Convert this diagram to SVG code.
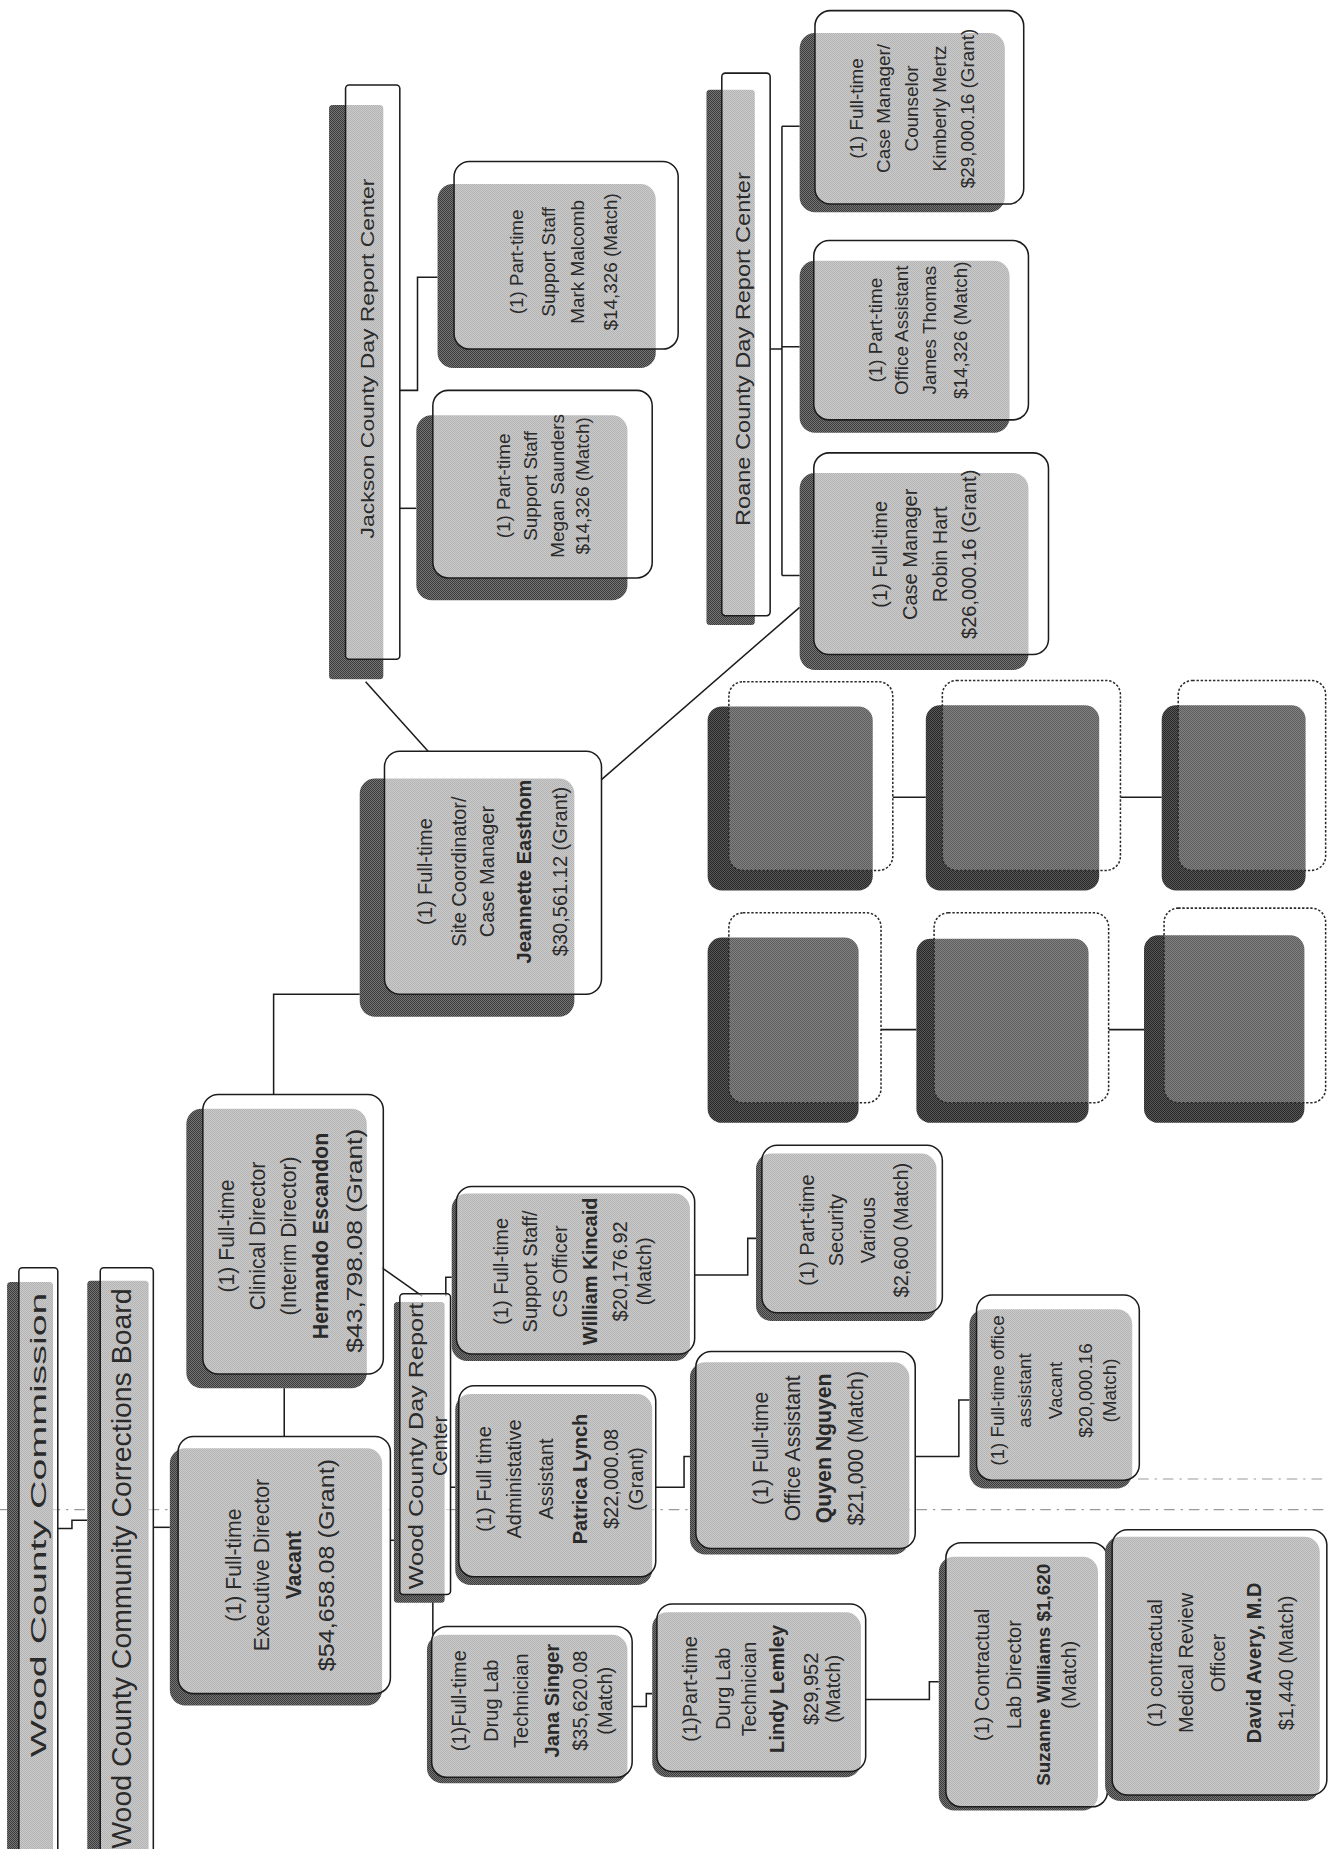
<svg xmlns="http://www.w3.org/2000/svg" width="1328" height="1849" viewBox="0 0 1328 1849">
<defs>
<pattern id="hp" width="2" height="2" patternUnits="userSpaceOnUse" patternTransform="scale(0.84789)">
<rect width="2" height="2" fill="#8a8a8a"/><rect width="1" height="1" fill="#262626"/><rect x="1" y="1" width="1" height="1" fill="#262626"/>
</pattern>
<pattern id="hp2" width="2" height="2" patternUnits="userSpaceOnUse" patternTransform="scale(0.84789)">
<rect width="2" height="2" fill="#6a6a6a"/><rect width="1" height="1" fill="#141414"/><rect x="1" y="1" width="1" height="1" fill="#141414"/>
</pattern>
</defs>
<style>
.sh{fill:url(#hp)}
.fr{fill:#fff;fill-opacity:.62;stroke:#1c1c1c;stroke-width:1.3}
.bsh{fill:url(#hp2)}
.bfr{fill:#fff;fill-opacity:.25;stroke:#2a2a2a;stroke-width:1.3;stroke-dasharray:2 1.5}
.t{font-family:"Liberation Sans",Arial,Helvetica,sans-serif;font-size:17px;fill:#2a2a2a;text-anchor:middle;dominant-baseline:central}
.s16{font-size:16px}
.s18{font-size:18px}
.b{font-weight:bold}
.c{fill:none;stroke:#1c1c1c;stroke-width:1.3}
.d{fill:none;stroke:#9a9a9a;stroke-width:1;stroke-dasharray:9 5 2 5}
</style>
<rect width="1328" height="1849" fill="#fff"/>
<g transform="scale(1.17940)">
<g id="foldlines">
<line class="d" x1="0" y1="1280" x2="1126" y2="1280"/>
<line class="d" x1="965" y1="1254" x2="1126" y2="1254"/>
</g>
<g id="connectors">
<path class="c" d="M49,1296 H61 V1289 H74"/>
<path class="c" d="M130,1295 H144"/>
<path class="c" d="M241,1177 V1218"/>
<path class="c" d="M232,928 V843 H305"/>
<path class="c" d="M310,578 L363,637"/>
<path class="c" d="M510,661 L678,515"/>
<path class="c" d="M339,331 H354 V235 H371"/>
<path class="c" d="M339,431 H353"/>
<path class="c" d="M653,296 H663 M663,107 V488 M663,107 H678 M663,294 H678 M663,488 H678"/>
<path class="c" d="M324,1075 L358,1099"/>
<path class="c" d="M331,1306 H339"/>
<path class="c" d="M378,1099 V1083 H383"/>
<path class="c" d="M382,1261 H386"/>
<path class="c" d="M367,1352 V1386"/>
<path class="c" d="M589,1081 H634 V1050 H641"/>
<path class="c" d="M556,1261 H580 V1235 H585"/>
<path class="c" d="M776,1235 H813 V1187 H822"/>
<path class="c" d="M536,1447 H548 V1436 H553"/>
<path class="c" d="M734,1441 H788 V1426 H796"/>
<path class="c" d="M757,676 H785 M950,676 H985 M747,873 H777 M940,873 H970"/>
</g>

<g id="commission">
<rect class="sh" x="6" y="1087" width="39" height="500" rx="3"/>
<rect class="fr" x="16" y="1075" width="33" height="500" rx="3"/>
<text class="t s18" textLength="394" lengthAdjust="spacingAndGlyphs" transform="translate(33 1293) rotate(-90)">Wood County Commission</text>
</g>
<g id="board">
<rect class="sh" x="74" y="1086" width="52" height="500" rx="3"/>
<rect class="fr" x="85" y="1075" width="45" height="500" rx="3"/>
<text class="t" style="font-size:24px" textLength="475" lengthAdjust="spacingAndGlyphs" transform="translate(103 1330) rotate(-90)">Wood County Community Corrections Board</text>
</g>

<g id="exec">
<rect class="sh" x="144" y="1228" width="180" height="218" rx="13"/>
<rect class="fr" x="151" y="1218" width="180" height="218" rx="13"/>
<text class="t s18" transform="translate(198 1327) rotate(-90)">(1) Full-time</text>
<text class="t s18" transform="translate(222 1327) rotate(-90)">Executive Director</text>
<text class="t s18 b" transform="translate(249 1327) rotate(-90)">Vacant</text>
<text class="t s18" textLength="180" lengthAdjust="spacingAndGlyphs" transform="translate(277 1327) rotate(-90)">$54,658.08 (Grant)</text>
</g>

<g id="clinical">
<rect class="sh" x="158" y="940" width="153" height="237" rx="13"/>
<rect class="fr" x="172" y="928" width="153" height="237" rx="13"/>
<text class="t s18" transform="translate(192 1048) rotate(-90)">(1) Full-time</text>
<text class="t s18" transform="translate(218 1048) rotate(-90)">Clinical Director</text>
<text class="t s18" transform="translate(245 1048) rotate(-90)">(Interim Director)</text>
<text class="t s18 b" transform="translate(272 1048) rotate(-90)">Hernando Escandon</text>
<text class="t s18" textLength="190" lengthAdjust="spacingAndGlyphs" transform="translate(301 1052) rotate(-90)">$43,798.08 (Grant)</text>
</g>

<g id="wcdrc">
<rect class="sh" x="334" y="1104" width="43" height="255" rx="3"/>
<rect class="fr" x="339" y="1097" width="43" height="255" rx="3"/>
<text class="t" textLength="243" lengthAdjust="spacingAndGlyphs" transform="translate(353 1226) rotate(-90)">Wood County Day Report</text>
<text class="t" transform="translate(373 1226) rotate(-90)">Center</text>
</g>

<g id="support">
<rect class="sh" x="383" y="1012" width="202" height="142" rx="13"/>
<rect class="fr" x="387" y="1006" width="202" height="142" rx="13"/>
<text class="t" transform="translate(425 1078) rotate(-90)">(1) Full-time</text>
<text class="t" transform="translate(449 1078) rotate(-90)">Support Staff/</text>
<text class="t" transform="translate(475 1078) rotate(-90)">CS Officer</text>
<text class="t b" transform="translate(500 1078) rotate(-90)">William Kincaid</text>
<text class="t" transform="translate(526 1078) rotate(-90)">$20,176.92</text>
<text class="t" transform="translate(546 1078) rotate(-90)">(Match)</text>
</g>

<g id="security">
<rect class="sh" x="641" y="978" width="153" height="142" rx="13"/>
<rect class="fr" x="646" y="971" width="153" height="142" rx="13"/>
<text class="t" transform="translate(684 1043) rotate(-90)">(1) Part-time</text>
<text class="t" transform="translate(709 1043) rotate(-90)">Security</text>
<text class="t" transform="translate(736 1043) rotate(-90)">Various</text>
<text class="t" transform="translate(764 1043) rotate(-90)">$2,600 (Match)</text>
</g>

<g id="admin">
<rect class="sh" x="386" y="1182" width="167" height="162" rx="13"/>
<rect class="fr" x="389" y="1175" width="167" height="162" rx="13"/>
<text class="t" transform="translate(410 1254) rotate(-90)">(1) Full time</text>
<text class="t" transform="translate(436 1254) rotate(-90)">Administative</text>
<text class="t" transform="translate(463 1254) rotate(-90)">Assistant</text>
<text class="t b" transform="translate(492 1254) rotate(-90)">Patrica Lynch</text>
<text class="t" transform="translate(518 1254) rotate(-90)">$22,000.08</text>
<text class="t" transform="translate(539 1254) rotate(-90)">(Grant)</text>
</g>

<g id="quyen">
<rect class="sh" x="585" y="1155" width="186" height="163" rx="13"/>
<rect class="fr" x="590" y="1146" width="186" height="167" rx="13"/>
<text class="t s18" transform="translate(645 1228) rotate(-90)">(1) Full-time</text>
<text class="t s18" transform="translate(672 1228) rotate(-90)">Office Assistant</text>
<text class="t s18 b" transform="translate(698 1228) rotate(-90)">Quyen Nguyen</text>
<text class="t s18" transform="translate(725 1228) rotate(-90)">$21,000 (Match)</text>
</g>

<g id="office-vacant">
<rect class="sh" x="822" y="1110" width="138" height="152" rx="13"/>
<rect class="fr" x="828" y="1098" width="138" height="157" rx="13"/>
<text class="t s16" transform="translate(846 1179) rotate(-90)">(1) Full-time office</text>
<text class="t s16" transform="translate(869 1179) rotate(-90)">assistant</text>
<text class="t s16" transform="translate(895 1179) rotate(-90)">Vacant</text>
<text class="t s16" transform="translate(920 1179) rotate(-90)">$20,000.16</text>
<text class="t s16" transform="translate(941 1179) rotate(-90)">(Match)</text>
</g>

<g id="jana">
<rect class="sh" x="362" y="1386" width="170" height="126" rx="13"/>
<rect class="fr" x="366" y="1379" width="170" height="128" rx="13"/>
<text class="t" transform="translate(389 1442) rotate(-90)">(1)Full-time</text>
<text class="t" transform="translate(416 1442) rotate(-90)">Drug Lab</text>
<text class="t" transform="translate(442 1442) rotate(-90)">Technician</text>
<text class="t b" transform="translate(468 1442) rotate(-90)">Jana Singer</text>
<text class="t" transform="translate(492 1442) rotate(-90)">$35,620.08</text>
<text class="t" transform="translate(513 1442) rotate(-90)">(Match)</text>
</g>

<g id="lindy">
<rect class="sh" x="553" y="1367" width="177" height="140" rx="13"/>
<rect class="fr" x="557" y="1360" width="177" height="142" rx="13"/>
<text class="t" transform="translate(585 1432) rotate(-90)">(1)Part-time</text>
<text class="t" transform="translate(613 1432) rotate(-90)">Durg Lab</text>
<text class="t" transform="translate(635 1432) rotate(-90)">Technician</text>
<text class="t b" transform="translate(659 1432) rotate(-90)">Lindy Lemley</text>
<text class="t" transform="translate(688 1432) rotate(-90)">$29,952</text>
<text class="t" transform="translate(706 1432) rotate(-90)">(Match)</text>
</g>

<g id="suzanne">
<rect class="sh" x="796" y="1320" width="135" height="215" rx="13"/>
<rect class="fr" x="802" y="1308" width="137" height="224" rx="13"/>
<text class="t" transform="translate(833 1420) rotate(-90)">(1) Contractual</text>
<text class="t" transform="translate(860 1420) rotate(-90)">Lab Director</text>
<text class="t s16 b" transform="translate(885 1420) rotate(-90)">Suzanne Williams $1,620</text>
<text class="t" transform="translate(906 1420) rotate(-90)">(Match)</text>
</g>

<g id="david">
<rect class="sh" x="937" y="1303" width="182" height="224" rx="13"/>
<rect class="fr" x="943" y="1297" width="182" height="225" rx="13"/>
<text class="t" transform="translate(979 1410) rotate(-90)">(1) contractual</text>
<text class="t" transform="translate(1006 1410) rotate(-90)">Medical Review</text>
<text class="t" transform="translate(1033 1410) rotate(-90)">Officer</text>
<text class="t b" transform="translate(1063 1410) rotate(-90)">David Avery, M.D</text>
<text class="t" transform="translate(1090 1410) rotate(-90)">$1,440 (Match)</text>
</g>

<g id="site">
<rect class="sh" x="305" y="660" width="182" height="202" rx="13"/>
<rect class="fr" x="326" y="637" width="184" height="206" rx="13"/>
<text class="t" transform="translate(360 739) rotate(-90)">(1) Full-time</text>
<text class="t" transform="translate(389 739) rotate(-90)">Site Coordinator/</text>
<text class="t" transform="translate(413 739) rotate(-90)">Case Manager</text>
<text class="t b" transform="translate(444 739) rotate(-90)">Jeannette Easthom</text>
<text class="t" transform="translate(475 739) rotate(-90)">$30,561.12 (Grant)</text>
</g>

<g id="jackson">
<rect class="sh" x="279" y="89" width="46" height="487" rx="3"/>
<rect class="fr" x="293" y="72" width="46" height="487" rx="3"/>
<text class="t s16" textLength="305" lengthAdjust="spacingAndGlyphs" transform="translate(312 304) rotate(-90)">Jackson County Day Report Center</text>
</g>

<g id="mark">
<rect class="sh" x="371" y="156" width="185" height="156" rx="13"/>
<rect class="fr" x="385" y="137" width="190" height="159" rx="13"/>
<text class="t s16" transform="translate(438 222) rotate(-90)">(1) Part-time</text>
<text class="t s16" transform="translate(465 222) rotate(-90)">Support Staff</text>
<text class="t s16" transform="translate(490 222) rotate(-90)">Mark Malcomb</text>
<text class="t s16" transform="translate(518 222) rotate(-90)">$14,326 (Match)</text>
</g>

<g id="megan">
<rect class="sh" x="353" y="352" width="179" height="157" rx="13"/>
<rect class="fr" x="367" y="331" width="186" height="159" rx="13"/>
<text class="t s16" transform="translate(427 412) rotate(-90)">(1) Part-time</text>
<text class="t s16" transform="translate(450 412) rotate(-90)">Support Staff</text>
<text class="t s16" transform="translate(473 412) rotate(-90)">Megan Saunders</text>
<text class="t s16" transform="translate(494 412) rotate(-90)">$14,326 (Match)</text>
</g>

<g id="roane">
<rect class="sh" x="599" y="76" width="41" height="454" rx="3"/>
<rect class="fr" x="612" y="62" width="41" height="460" rx="3"/>
<text class="t" textLength="300" lengthAdjust="spacingAndGlyphs" transform="translate(630 296) rotate(-90)">Roane County Day Report Center</text>
</g>

<g id="mertz">
<rect class="sh" x="678" y="28" width="174" height="152" rx="13"/>
<rect class="fr" x="691" y="9" width="177" height="164" rx="13"/>
<text class="t s16" transform="translate(726 92) rotate(-90)">(1) Full-time</text>
<text class="t s16" transform="translate(749 92) rotate(-90)">Case Manager/</text>
<text class="t s16" transform="translate(773 92) rotate(-90)">Counselor</text>
<text class="t s16" transform="translate(797 92) rotate(-90)">Kimberly Mertz</text>
<text class="t s16" transform="translate(820 92) rotate(-90)">$29,000.16 (Grant)</text>
</g>

<g id="james">
<rect class="sh" x="678" y="221" width="178" height="146" rx="13"/>
<rect class="fr" x="690" y="204" width="182" height="152" rx="13"/>
<text class="t s16" transform="translate(742 280) rotate(-90)">(1) Part-time</text>
<text class="t s16" transform="translate(764 280) rotate(-90)">Office Assistant</text>
<text class="t s16" transform="translate(788 280) rotate(-90)">James Thomas</text>
<text class="t s16" transform="translate(814 280) rotate(-90)">$14,326 (Match)</text>
</g>

<g id="robin">
<rect class="sh" x="678" y="401" width="194" height="167" rx="13"/>
<rect class="fr" x="690" y="384" width="199" height="171" rx="13"/>
<text class="t" transform="translate(746 470) rotate(-90)">(1) Full-time</text>
<text class="t" transform="translate(772 470) rotate(-90)">Case Manager</text>
<text class="t" transform="translate(797 470) rotate(-90)">Robin Hart</text>
<text class="t" transform="translate(822 470) rotate(-90)">$26,000.16 (Grant)</text>
</g>

<g id="blank-a"><rect class="bsh" x="600" y="599" width="140" height="156" rx="12"/><rect class="bfr" x="618" y="578" width="139" height="160" rx="12"/></g>
<g id="blank-b"><rect class="bsh" x="785" y="598" width="147" height="157" rx="12"/><rect class="bfr" x="799" y="577" width="151" height="161" rx="12"/></g>
<g id="blank-c"><rect class="bsh" x="985" y="598" width="122" height="157" rx="12"/><rect class="bfr" x="999" y="577" width="125" height="161" rx="12"/></g>
<g id="blank-d"><rect class="bsh" x="600" y="795" width="128" height="157" rx="12"/><rect class="bfr" x="618" y="774" width="129" height="161" rx="12"/></g>
<g id="blank-e"><rect class="bsh" x="777" y="796" width="146" height="156" rx="12"/><rect class="bfr" x="792" y="774" width="148" height="161" rx="12"/></g>
<g id="blank-f"><rect class="bsh" x="970" y="793" width="136" height="159" rx="12"/><rect class="bfr" x="987" y="770" width="137" height="165" rx="12"/></g>
</g>
</svg>
